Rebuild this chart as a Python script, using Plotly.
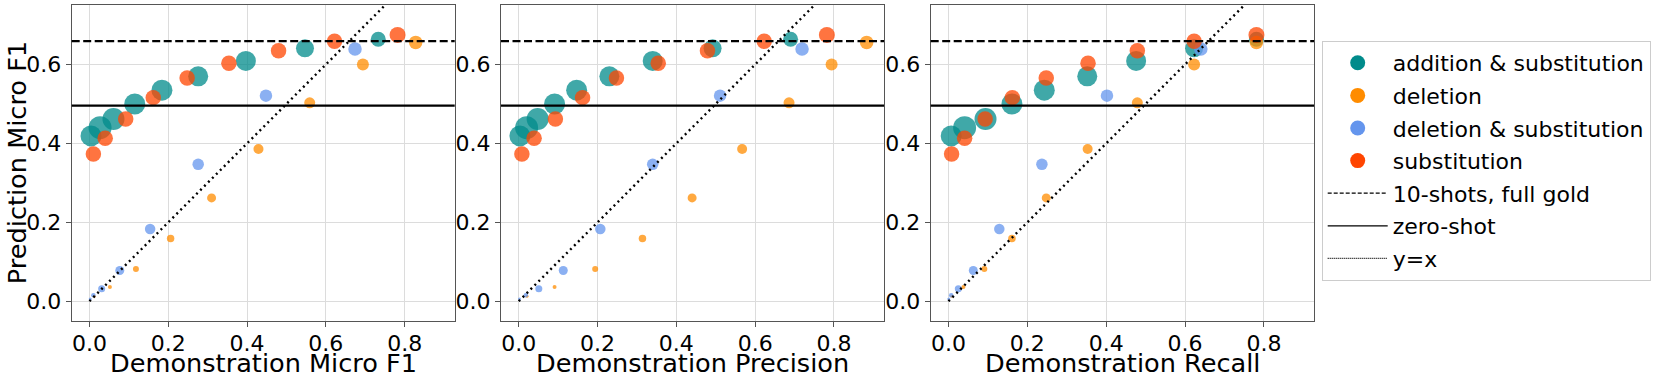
import plotly.graph_objects as go
from plotly.subplots import make_subplots

# prediction micro F1 (y) is the same across the three panels
add_sub_pred = [0.419, 0.440, 0.462, 0.500, 0.535, 0.570, 0.609, 0.641, 0.664]
add_sub_f1 = [0.004, 0.027, 0.061, 0.115, 0.184, 0.276, 0.397, 0.547, 0.733]
add_sub_prec = [0.003, 0.020, 0.048, 0.091, 0.147, 0.230, 0.340, 0.492, 0.690]
add_sub_rec = [0.007, 0.041, 0.094, 0.161, 0.243, 0.352, 0.476, 0.623, 0.781]
add_sub_size = [21, 23, 22, 21, 21, 20, 20, 18, 15]

del_pred = [0.013, 0.036, 0.082, 0.159, 0.262, 0.386, 0.503, 0.600, 0.656]
del_f1 = [0.012, 0.052, 0.118, 0.206, 0.310, 0.429, 0.559, 0.694, 0.828]
del_prec = [0.021, 0.091, 0.194, 0.314, 0.440, 0.567, 0.686, 0.794, 0.883]
del_rec = [0.008, 0.038, 0.091, 0.161, 0.248, 0.353, 0.479, 0.623, 0.781]
del_size = [3, 4, 6, 7.5, 9, 10, 11, 12, 13.5]

del_sub_pred = [0.006, 0.015, 0.032, 0.078, 0.183, 0.347, 0.521, 0.639]
del_sub_f1 = [0.002, 0.010, 0.031, 0.077, 0.154, 0.276, 0.448, 0.674]
del_sub_prec = [0.002, 0.018, 0.051, 0.113, 0.207, 0.340, 0.511, 0.719]
del_sub_rec = [0.001, 0.007, 0.025, 0.063, 0.129, 0.237, 0.402, 0.640]
del_sub_size = [3, 4.5, 7, 9, 10.5, 11.5, 12.5, 13.5]

sub_pred = [0.373, 0.413, 0.462, 0.516, 0.566, 0.603, 0.635, 0.659, 0.675]
sub_f1 = [0.010, 0.040, 0.092, 0.162, 0.248, 0.354, 0.480, 0.622, 0.782]
sub_prec = [0.008, 0.039, 0.093, 0.162, 0.248, 0.354, 0.479, 0.623, 0.782]
sub_rec = [0.008, 0.041, 0.093, 0.162, 0.248, 0.354, 0.479, 0.623, 0.781]
sub_size = [15.5, 15.5, 15.5, 15.5, 15.5, 15.5, 15.5, 15.5, 16]

full_gold = 0.659
zero_shot = 0.496
diag = [0, 1]

x_titles = ['Demonstration Micro F1', 'Demonstration Precision', 'Demonstration Recall']
y_title = 'Prediction Micro F1'
tick_vals = [0.0, 0.2, 0.4, 0.6, 0.8]

series = [
    ('addition & substitution', '#008b8b', add_sub_pred,
     [add_sub_f1, add_sub_prec, add_sub_rec], add_sub_size),
    ('deletion', '#ff8c00', del_pred, [del_f1, del_prec, del_rec], del_size),
    ('deletion & substitution', '#6495ed', del_sub_pred,
     [del_sub_f1, del_sub_prec, del_sub_rec], del_sub_size),
    ('substitution', '#ff4500', sub_pred, [sub_f1, sub_prec, sub_rec], sub_size),
]

FONT = 'DejaVu Sans'
W, H = 1661, 380

fig = make_subplots(rows=1, cols=3)

for col in range(1, 4):
    for name, color, pred, xs, sizes in series:
        fig.add_trace(go.Scatter(
            x=xs[col - 1], y=pred, mode='markers', showlegend=False,
            marker=dict(color=color, size=sizes, opacity=0.75, line=dict(width=0)),
            hoverinfo='skip'), row=1, col=col)
    fig.add_trace(go.Scatter(
        x=diag, y=diag, mode='lines', showlegend=False,
        line=dict(color='black', width=2.4, dash='2px,3.6px')), row=1, col=col)
    fig.add_hline(y=full_gold, line=dict(color='black', width=2.2, dash='8px,3.5px'),
                  row=1, col=col)
    fig.add_hline(y=zero_shot, line=dict(color='black', width=2.2), row=1, col=col)

# legend-only entries (opaque markers, thin lines)
for name, color, *_ in series:
    fig.add_trace(go.Scatter(x=[None], y=[None], mode='markers', name=name,
                             legendgroup=name,
                             marker=dict(color=color, size=15)))
for name, dash in [('10-shots, full gold', '4px,2px'), ('zero-shot', 'solid'),
                   ('y=x', '1px,1px')]:
    fig.add_trace(go.Scatter(x=[None], y=[None], mode='lines', name=name,
                             legendgroup=name,
                             line=dict(color='black', width=1.2, dash=dash)))

# axes placement (pixels -> paper)
x_doms = [(71.7, 454.7), (501.0, 884.0), (930.7, 1314.0)]
y_dom = [1 - 321 / H, 1 - 5.3 / H]

axis_common = dict(
    showline=True, mirror=True, linecolor='#555', linewidth=1.2,
    showgrid=True, gridcolor='#dcdcdc', gridwidth=1, zeroline=False,
    ticks='outside', ticklen=5, tickcolor='#555',
    tickfont=dict(family=FONT, size=22, color='black'),
    tickformat='.1f', automargin=False,
)

title_font = dict(family=FONT, size=25.6, color='black')
for i in range(3):
    fig.update_xaxes(
        domain=[x_doms[i][0] / W, x_doms[i][1] / W],
        range=[-0.045, 0.927], tickvals=tick_vals, ticklabelstandoff=-3,
        row=1, col=i + 1, **axis_common)
    fig.update_yaxes(
        domain=y_dom, range=[-0.05, 0.75], tickvals=[0.0, 0.2, 0.4, 0.6],
        row=1, col=i + 1, **axis_common)
    fig.add_annotation(text=x_titles[i], xref='paper', yref='paper',
                       x=(x_doms[i][0] + x_doms[i][1]) / 2 / W, y=1 - 363 / H,
                       xanchor='center', yanchor='middle', showarrow=False,
                       font=title_font)

fig.add_annotation(text=y_title, xref='paper', yref='paper',
                   x=17 / W, y=(y_dom[0] + y_dom[1]) / 2, textangle=-90,
                   xanchor='center', yanchor='middle', showarrow=False,
                   font=title_font)

fig.update_layout(
    width=W, height=H,
    margin=dict(l=0, r=0, t=0, b=0),
    paper_bgcolor='white', plot_bgcolor='white',
    font=dict(family=FONT, color='black'),
    legend=dict(
        x=1321.7 / W, y=1 - 41 / H, xanchor='left', yanchor='top',
        font=dict(family=FONT, size=22, color='black'),
        bordercolor='#cccccc', borderwidth=1, bgcolor='white',
        itemsizing='trace', traceorder='grouped', tracegroupgap=1,
        itemwidth=60,
    ),
)

fig.write_html('out.html', config={'displayModeBar': False},
               post_script="document.body.style.margin='0px';"
                           "document.body.style.overflow='hidden';")
